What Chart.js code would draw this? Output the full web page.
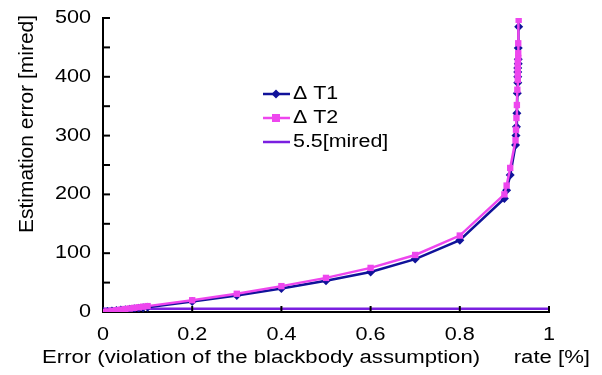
<!DOCTYPE html>
<html>
<head>
<meta charset="utf-8">
<script src="https://cdn.jsdelivr.net/npm/chart.js@4.4.0/dist/chart.umd.min.js"></script>
<style>
  html, body { margin: 0; padding: 0; background: #fff; }
  #c { display: block; }
</style>
</head>
<body>
<canvas id="c" width="602" height="375"></canvas>
<script>
// error rate (x) shared by both series
const rate = [0, 0.01, 0.02, 0.03, 0.04, 0.05, 0.06, 0.07, 0.08, 0.09, 0.1,
	0.2, 0.3, 0.4, 0.5, 0.6, 0.7, 0.8, 0.9,
	0.905, 0.913, 0.925, 0.926, 0.927, 0.928, 0.929, 0.93, 0.93, 0.93, 0.93, 0.931, 0.931, 0.931, 0.932];
const dT1 = [0, 0.8, 1.6, 2.4, 3.2, 4, 4.8, 5.6, 6.4, 7.2, 8,
	18, 28, 40, 53, 68, 90, 122, 193,
	207, 233, 284, 300, 315, 338, 372, 390, 400, 408, 415, 422, 430, 449, 485];
const dT2 = [0, 1, 2, 3, 4, 5, 6, 7, 8, 9, 10,
	20, 31, 44, 58, 75, 97, 130, 200,
	215, 245, 292, 310, 330, 352, 378, 395, 405, 415, 425, 432, 440, 457, 497];
const refX = [0, 1];
const refLevel = 5.5;
const seriesLabels = ['\u0394 T1', '\u0394 T2', '5.5[mired]'];
const xLabel = 'Error (violation of the blackbody assumption)';
const xUnit = 'rate [%]';
const yLabel = 'Estimation error [mired]';

const toPoints = (xs, ys) => xs.map((x, i) => ({ x: x, y: ys[i] }));

const blue = '#10129a';
const pink = '#ee46ee';
const violet = '#7a1fe0';
const FONT = '"Liberation Sans", Arial, sans-serif';

const drawText = function(ctx, text, x, y, align, size, sx) {
	ctx.save();
	ctx.translate(x, y);
	ctx.scale(sx, 1);
	ctx.font = size + 'px ' + FONT;
	ctx.textAlign = align;
	ctx.textBaseline = 'middle';
	ctx.fillStyle = '#000';
	ctx.fillText(text, 0, 0);
	ctx.restore();
};

const decorations = {
	id: 'decorations',
	afterDraw(chart) {
		const ctx = chart.ctx;
		const xs = chart.scales.x, ys = chart.scales.y;
		const area = chart.chartArea;
		ctx.save();
		ctx.strokeStyle = '#000';
		ctx.lineWidth = 2;
		// inward tick marks + labels
		ys.ticks.forEach(t => {
			const py = ys.getPixelForValue(t.value);
			if (t.value > 0) {
				ctx.beginPath();
				ctx.moveTo(area.left, py);
				ctx.lineTo(area.left + 7, py);
				ctx.stroke();
			}
			if (t.value % 100 === 0) drawText(ctx, String(t.value), area.left - 12, py, 'right', 18, 1.2);
		});
		xs.ticks.forEach(t => {
			const px = xs.getPixelForValue(t.value);
			if (t.value > 0) {
				ctx.beginPath();
				ctx.moveTo(px, area.bottom + 1);
				ctx.lineTo(px, area.bottom - 6);
				ctx.stroke();
			}
			drawText(ctx, String(Math.round(t.value * 10) / 10), px, area.bottom + 23, 'center', 18, 1.2);
		});
		// axis titles
		drawText(ctx, xLabel, 42, 358, 'left', 18, 1.23);
		drawText(ctx, xUnit, 590, 358, 'right', 18, 1.23);
		ctx.save();
		ctx.translate(27, 124);
		ctx.rotate(-Math.PI / 2);
		drawText(ctx, yLabel, 0, 0, 'center', 21, 1);
		ctx.restore();
		// legend inside the plot
		const rows = [94, 118, 142];
		chart.data.datasets.forEach((ds, i) => {
			const y = rows[i];
			ctx.strokeStyle = ds.borderColor;
			ctx.lineWidth = 2.5;
			ctx.beginPath();
			ctx.moveTo(263, y);
			ctx.lineTo(290, y);
			ctx.stroke();
			ctx.fillStyle = ds.borderColor;
			if (ds.pointStyle === 'rectRot') {
				ctx.beginPath();
				ctx.moveTo(276, y - 4.5); ctx.lineTo(280.5, y); ctx.lineTo(276, y + 4.5); ctx.lineTo(271.5, y);
				ctx.closePath(); ctx.fill();
			} else if (ds.pointStyle === 'rect' && ds.pointRadius > 0) {
				ctx.fillRect(272, y - 4, 8, 8);
			}
			drawText(ctx, ds.label, 293, y, 'left', 18, 1.19);
		});
		ctx.restore();
	}
};

new Chart(document.getElementById('c'), {
	type: 'scatter',
	data: {
		datasets: [
			{
				label: seriesLabels[0],
				data: toPoints(rate, dT1),
				showLine: true,
				borderColor: blue,
				backgroundColor: blue,
				borderWidth: 2.5,
				pointStyle: 'rectRot',
				pointRadius: 4.5,
				pointBorderWidth: 0,
				order: 2
			},
			{
				label: seriesLabels[1],
				data: toPoints(rate, dT2),
				showLine: true,
				borderColor: pink,
				backgroundColor: pink,
				borderWidth: 2.5,
				pointStyle: 'rect',
				pointRadius: 4.5,
				pointBorderWidth: 0,
				order: 1
			},
			{
				label: seriesLabels[2],
				data: toPoints(refX, [refLevel, refLevel]),
				showLine: true,
				borderColor: violet,
				backgroundColor: violet,
				borderWidth: 2.5,
				pointRadius: 0,
				order: 3
			}
		]
	},
	options: {
		responsive: false,
		animation: false,
		layout: { padding: { left: 0, top: 18, right: 53, bottom: 0 } },
		plugins: { legend: { display: false }, tooltip: { enabled: false } },
		scales: {
			x: {
				type: 'linear', min: 0, max: 1,
				ticks: { stepSize: 0.2, display: false },
				grid: { display: false },
				border: { color: '#000', width: 2 },
				afterFit: s => { s.height = 63; }
			},
			y: {
				min: 0, max: 500,
				ticks: { stepSize: 50, display: false },
				grid: { display: false },
				border: { color: '#000', width: 2 },
				afterFit: s => { s.width = 103; }
			}
		}
	},
	plugins: [decorations]
});
</script>
</body>
</html>
